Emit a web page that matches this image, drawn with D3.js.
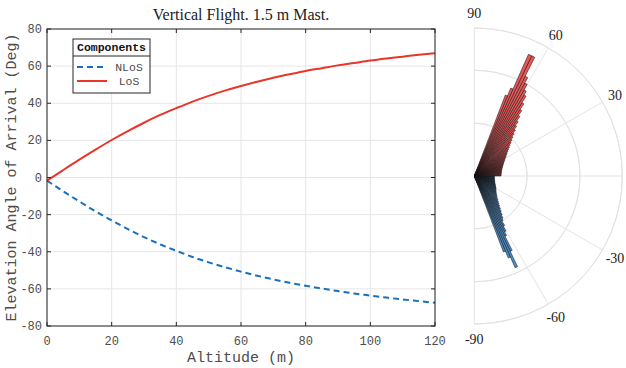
<!DOCTYPE html>
<html>
<head>
<meta charset="utf-8">
<script src="https://cdn.jsdelivr.net/npm/d3@7"></script>
<style>
  body { margin: 0; background: #fff; }
</style>
</head>
<body>
<svg></svg>
<script>
// altitude samples (m) and the two elevation angles (deg)
var altitude = [0,5,10,15,20,25,30,35,40,45,50,55,60,65,70,75,80,85,90,95,100,105,110,115,120];
var losAngle = [-1.7,4.0,9.6,15.0,20.2,25.0,29.5,33.7,37.4,40.9,44.0,46.8,49.3,51.6,53.7,55.6,57.4,58.9,60.4,61.7,63.0,64.1,65.1,66.1,67.0];
var nlosAngle = [-1.7,-7.4,-12.9,-18.2,-23.1,-27.8,-32.1,-36.0,-39.5,-42.8,-45.7,-48.3,-50.7,-52.9,-54.9,-56.7,-58.3,-59.8,-61.2,-62.5,-63.6,-64.7,-65.7,-66.6,-67.5];

var xTicks = [0,20,40,60,80,100,120];
var yTicks = [-80,-60,-40,-20,0,20,40,60,80];

// polar histogram, 1.5 deg bins from 0 to 69 deg (LoS up, NLoS down)
var binCount = 46, binMaxAngle = 69;
var losBins = [2.53,2.53,2.54,2.55,2.57,2.58,2.60,2.63,2.66,2.70,2.73,2.78,2.83,2.88,2.94,3.00,3.07,3.15,3.24,3.33,
               3.43,3.54,3.66,3.79,3.94,4.10,4.28,4.47,4.69,4.92,5.18,5.48,5.81,6.18,6.60,7.09,7.64,8.28,9.0,9.4,
               10.0,10.6,12.6,12.6,9.0,8.2];
var nlosBins = [1.89,1.89,1.90,1.90,1.91,1.92,1.93,1.95,1.97,1.99,2.01,2.03,2.06,2.09,2.13,2.16,2.20,2.25,2.30,2.35,
                2.38,2.42,2.47,2.52,2.58,2.65,2.73,2.82,2.92,3.04,3.17,3.32,3.50,3.70,3.95,4.2,4.5,4.8,5.0,5.5,
                6.0,6.4,7.9,9.5,8.4,7.7];
var rTicks = [5,10], rMax = 14;
var thetaTicks = [-90,-60,-30,0,30,60,90];
var thetaLabels = [-90,-60,-30,30,60,90];

var svgWidth = 626, svgHeight = 368;
var margin = { top: 29, left: 47 };
var innerWidth = 388, innerHeight = 297;
var mono = 'Liberation Mono, monospace', serif = 'Liberation Serif, DejaVu Serif, serif';

var svg = d3.select('svg').attr('width', svgWidth).attr('height', svgHeight);

// scales in page coordinates
var xScale = d3.scaleLinear().domain([0,120]).range([margin.left, margin.left + innerWidth]);
var yScale = d3.scaleLinear().domain([-80,80]).range([margin.top + innerHeight, margin.top]);
var x0 = xScale(0), x1 = xScale(120), y0 = yScale(-80), y1 = yScale(80);

// grid
svg.selectAll('.xgrid').data(xTicks).enter().append('line')
  .attr('x1', d => xScale(d)).attr('x2', d => xScale(d))
  .attr('y1', y1).attr('y2', y0)
  .attr('stroke', '#e6e6e6');
svg.selectAll('.ygrid').data(yTicks).enter().append('line')
  .attr('y1', d => yScale(d)).attr('y2', d => yScale(d))
  .attr('x1', x0).attr('x2', x1)
  .attr('stroke', '#e6e6e6');

// lines
var line = (ys) => d3.line()
  .x((d,i) => xScale(altitude[i]))
  .y(d => yScale(d))
  .curve(d3.curveMonotoneX)(ys);

svg.append('path').attr('d', line(nlosAngle))
  .attr('fill', 'none').attr('stroke', '#1a6fbd').attr('stroke-width', 2)
  .attr('stroke-dasharray', '6,4');
svg.append('path').attr('d', line(losAngle))
  .attr('fill', 'none').attr('stroke', '#e8362b').attr('stroke-width', 2);

// box and inward ticks on all four sides
svg.append('rect').attr('x', x0).attr('y', y1).attr('width', x1 - x0).attr('height', y0 - y1)
  .attr('fill', 'none').attr('stroke', '#262626').attr('stroke-width', 1);
var tickLen = 4;
xTicks.forEach(t => {
  svg.append('line').attr('x1', xScale(t)).attr('x2', xScale(t)).attr('y1', y0).attr('y2', y0 - tickLen).attr('stroke', '#262626');
  svg.append('line').attr('x1', xScale(t)).attr('x2', xScale(t)).attr('y1', y1).attr('y2', y1 + tickLen).attr('stroke', '#262626');
  svg.append('text').attr('x', xScale(t)).attr('y', y0 + 19)
    .attr('font-family', mono).attr('font-size', 12).attr('fill', '#4d4d4d')
    .attr('text-anchor', 'middle').text(t);
});
yTicks.forEach(t => {
  svg.append('line').attr('y1', yScale(t)).attr('y2', yScale(t)).attr('x1', x0).attr('x2', x0 + tickLen).attr('stroke', '#262626');
  svg.append('line').attr('y1', yScale(t)).attr('y2', yScale(t)).attr('x1', x1).attr('x2', x1 - tickLen).attr('stroke', '#262626');
  svg.append('text').attr('x', x0 - 5).attr('y', yScale(t) + 4)
    .attr('font-family', mono).attr('font-size', 12).attr('fill', '#4d4d4d')
    .attr('text-anchor', 'end').text(t);
});

svg.append('text')
  .attr('x', (x0 + x1) / 2).attr('y', 362)
  .attr('font-family', mono).attr('font-size', 15).attr('fill', '#4d4d4d')
  .attr('text-anchor', 'middle').text('Altitude (m)');
svg.append('text')
  .attr('transform', `translate(16,${(y0 + y1) / 2}) rotate(-90)`)
  .attr('font-family', mono).attr('font-size', 15).attr('fill', '#4d4d4d')
  .attr('text-anchor', 'middle').text('Elevation Angle of Arrival (Deg)');
svg.append('text')
  .attr('x', (x0 + x1) / 2).attr('y', 20)
  .attr('font-family', serif).attr('font-size', 16).attr('fill', '#222')
  .attr('text-anchor', 'middle').text('Vertical Flight. 1.5 m Mast.');

// legend
var leg = svg.append('g').attr('transform', 'translate(73,39)');
leg.append('rect').attr('width', 77).attr('height', 54).attr('fill', '#fff').attr('stroke', '#262626');
leg.append('line').attr('x1', 0).attr('x2', 77).attr('y1', 17).attr('y2', 17).attr('stroke', '#262626');
leg.append('text').attr('x', 38.5).attr('y', 12).attr('text-anchor', 'middle')
  .attr('font-family', mono).attr('font-weight', 'bold').attr('font-size', 11.5)
  .attr('fill', '#111').text('Components');
var legItems = [
  { label: 'NLoS', color: '#1a6fbd', dash: '6,4' },
  { label: 'LoS', color: '#e8362b', dash: null }
];
legItems.forEach((d, i) => {
  var yy = 28 + i * 14;
  leg.append('line').attr('x1', 4).attr('x2', 34).attr('y1', yy).attr('y2', yy)
    .attr('stroke', d.color).attr('stroke-width', 2).attr('stroke-dasharray', d.dash);
  leg.append('text').attr('x', 56).attr('y', yy + 4).attr('text-anchor', 'middle')
    .attr('font-family', mono).attr('font-size', 11.5)
    .attr('fill', '#4d4d4d').text(d.label);
});

// ---- polar histogram ----
var cx = 474.3, cy = 176, R = 148;
var rScale = d3.scaleLinear().domain([0, rMax]).range([0, R]);
var binAngle = d3.scaleLinear().domain([0, binCount]).range([0, binMaxAngle]);
var rad = Math.PI / 180;

var pg = svg.append('g').attr('transform', `translate(${cx},${cy})`);

// rings and spokes
rTicks.concat([rMax]).forEach(r => {
  pg.append('path')
    .attr('d', d3.arc()({ innerRadius: rScale(r), outerRadius: rScale(r), startAngle: 0, endAngle: Math.PI }))
    .attr('fill', 'none').attr('stroke', '#e3e3e3').attr('stroke-width', 1);
});
thetaTicks.forEach(t => {
  pg.append('line').attr('x1', 0).attr('y1', 0)
    .attr('x2', R * Math.cos(t * rad)).attr('y2', -R * Math.sin(t * rad))
    .attr('stroke', '#e3e3e3').attr('stroke-width', 1);
});
thetaLabels.forEach(t => {
  var lx = cx + (R + 15) * Math.cos(t * rad);
  svg.append('text')
    .attr('font-family', serif).attr('font-size', 14).attr('fill', '#222')
    .attr('x', Math.min(lx, svgWidth - 11)).attr('y', cy - (R + 15) * Math.sin(t * rad) + 5)
    .attr('text-anchor', 'middle').text(t);
});

// wedge: math angle a0..a1 (deg, counter-clockwise from +x) -> d3.arc angles
var wedge = d3.arc().innerRadius(0);
function drawBins(bins, sign, fill) {
  pg.selectAll(null).data(bins).enter().append('path')
    .attr('d', (d, i) => {
      var a0 = sign * binAngle(i), a1 = sign * binAngle(i + 1);
      var lo = Math.min(a0, a1), hi = Math.max(a0, a1);
      return wedge({ outerRadius: rScale(d), startAngle: (90 - hi) * rad, endAngle: (90 - lo) * rad });
    })
    .attr('fill', fill).attr('stroke', '#141414').attr('stroke-width', 0.55);
}
drawBins(nlosBins, -1, '#4b8ecb');
drawBins(losBins, 1, '#e95757');
</script>
</body>
</html>
